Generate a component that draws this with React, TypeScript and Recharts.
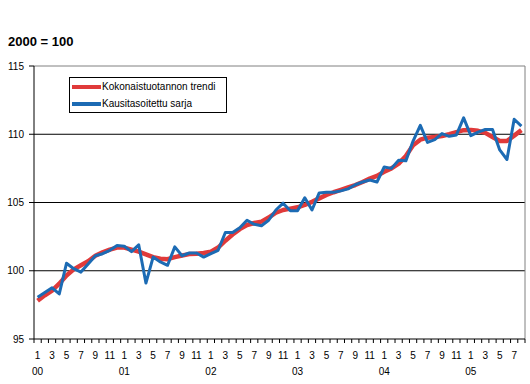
import React from 'react';
import { LineChart, Line, XAxis, YAxis, ReferenceLine, Legend } from 'recharts';

const YEAR_LABELS = ['00', '01', '02', '03', '04', '05'];
const MONTH_LABELS = ['1', '2', '3', '4', '5', '6', '7', '8', '9', '10', '11', '12'];
const Y_TICKS = [95, 100, 105, 110, 115];
const GRID_VALUES = [100, 105, 110];
const SERIES_NAMES = ['Kokonaistuotannon trendi', 'Kausitasoitettu sarja'];

const TREND = [
  97.8, 98.2, 98.55, 99.05, 99.65, 100.1, 100.4, 100.7, 101.1, 101.35, 101.55, 101.7,
  101.7, 101.55, 101.4, 101.2, 101.0, 100.88, 100.85, 101.0, 101.12, 101.22, 101.25, 101.3,
  101.4, 101.7, 102.2, 102.65, 103.05, 103.35, 103.5, 103.6, 103.9, 104.25, 104.45, 104.55,
  104.65, 104.82, 105.05, 105.3, 105.55, 105.75, 105.92, 106.1, 106.28, 106.5, 106.75, 106.95,
  107.25, 107.5, 107.85, 108.4, 109.2, 109.6, 109.75, 109.8, 109.87, 110.0, 110.15, 110.3,
  110.32, 110.25, 110.1, 109.8, 109.5, 109.5, 109.9, 110.3,
];

const SARJA = [
  98.05, 98.4, 98.75, 98.3, 100.55, 100.15, 99.9, 100.5, 101.1, 101.25, 101.5, 101.85,
  101.8, 101.4, 101.9, 99.1, 101.0, 100.65, 100.4, 101.75, 101.1, 101.3, 101.3, 101.0,
  101.25, 101.5, 102.8, 102.8, 103.15, 103.7, 103.4, 103.3, 103.7, 104.45, 104.95, 104.4,
  104.4, 105.35, 104.45, 105.7, 105.75, 105.75, 105.85, 106.0, 106.3, 106.5, 106.65, 106.5,
  107.6, 107.5, 108.1, 108.05, 109.5, 110.65, 109.4, 109.6, 110.05, 109.85, 109.95, 111.2,
  109.9, 110.15, 110.35, 110.35, 108.85, 108.15, 111.1, 110.6,
];

const data = TREND.map((t, i) => ({
  i,
  month: MONTH_LABELS[i % 12],
  year: YEAR_LABELS[Math.floor(i / 12)],
  trend: t,
  sarja: SARJA[i],
}));

const N = data.length;
const boundaryTicks = Array.from({ length: N + 1 }, (_, k) => k - 0.5);
const labelTicks = data.filter((d) => Number(d.month) % 2 === 1).map((d) => d.i);

const FONT = '"Liberation Sans", Arial, sans-serif';

const EmptyTick = () => <g />;

const MonthTick = (props: any) => {
  const { x, y, payload } = props;
  const d = data[payload.value];
  if (!d) return null;
  return (
    <g>
      <text x={x} y={y} dy={15} textAnchor="middle" fontSize={10} fontFamily={FONT} fill="#000">
        {d.month}
      </text>
      {d.month === '1' && (
        <text x={x} y={y} dy={31} textAnchor="middle" fontSize={10} fontFamily={FONT} fill="#000">
          {d.year}
        </text>
      )}
    </g>
  );
};

const LegendBox = (props: any) => {
  const payload = [...(props.payload || [])].sort(
    (a: any, b: any) => SERIES_NAMES.indexOf(a.value) - SERIES_NAMES.indexOf(b.value)
  );
  return (
    <div
      style={{
        width: 156,
        height: 34,
        border: '1px solid #000',
        background: '#fff',
        fontFamily: FONT,
        fontSize: 10,
        color: '#000',
        boxSizing: 'content-box',
      }}
    >
      {payload.map((p: any) => (
        <div key={p.value} style={{ display: 'flex', alignItems: 'center', height: 17, paddingLeft: 2 }}>
          <div style={{ width: 29, height: 4, background: p.color, marginRight: 1 }} />
          <span style={{ whiteSpace: 'nowrap' }}>{p.value}</span>
        </div>
      ))}
    </div>
  );
};

export default function App() {
  return (
    <div style={{ position: 'absolute', left: 0, top: 0, width: 530, height: 384, background: '#fff' }}>
      <div
        style={{
          position: 'absolute',
          left: 8,
          top: 34,
          fontFamily: FONT,
          fontWeight: 'bold',
          fontSize: 13,
          color: '#000',
          whiteSpace: 'nowrap',
        }}
      >
        2000 = 100
      </div>
      <LineChart width={530} height={384} data={data} margin={{ top: 66, right: 5, bottom: 0, left: 0 }}>
        <XAxis
          xAxisId="a"
          type="number"
          dataKey="i"
          domain={[-0.5, N - 0.5]}
          ticks={boundaryTicks}
          interval={0}
          tick={<EmptyTick />}
          tickSize={4}
          height={5}
          axisLine={{ stroke: '#000' }}
          tickLine={{ stroke: '#000' }}
        />
        <XAxis
          xAxisId="b"
          type="number"
          dataKey="i"
          domain={[-0.5, N - 0.5]}
          ticks={labelTicks}
          interval={0}
          tick={<MonthTick />}
          tickSize={0}
          tickMargin={0}
          height={40}
          axisLine={false}
          tickLine={false}
        />
        <YAxis
          type="number"
          domain={[95, 115]}
          ticks={Y_TICKS}
          interval={0}
          width={34}
          tickSize={5}
          tickMargin={5}
          axisLine={{ stroke: '#000' }}
          tickLine={{ stroke: '#000' }}
          tick={{ fontSize: 10, fontFamily: FONT, fill: '#000' }}
        />
        {GRID_VALUES.map((v) => (
          <ReferenceLine key={v} y={v} xAxisId="a" stroke="#000" strokeWidth={1} />
        ))}
        <ReferenceLine y={115} xAxisId="a" stroke="#808080" strokeWidth={1} />
        <ReferenceLine x={N - 0.5} xAxisId="a" stroke="#808080" strokeWidth={1} />
        <Line
          xAxisId="a"
          type="linear"
          dataKey="trend"
          name={SERIES_NAMES[0]}
          stroke="#e03a3a"
          strokeWidth={4.5}
          dot={false}
          strokeLinejoin="round"
          isAnimationActive={false}
        />
        <Line
          xAxisId="a"
          type="linear"
          dataKey="sarja"
          name={SERIES_NAMES[1]}
          stroke="#1c6bb4"
          strokeWidth={3}
          dot={false}
          strokeLinejoin="round"
          isAnimationActive={false}
        />
        <Legend
          layout="vertical"
          align="center"
          verticalAlign="middle"
          content={<LegendBox />}
          wrapperStyle={{ position: 'absolute', left: 69, top: 77, width: 158, height: 36 }}
        />
      </LineChart>
    </div>
  );
}
